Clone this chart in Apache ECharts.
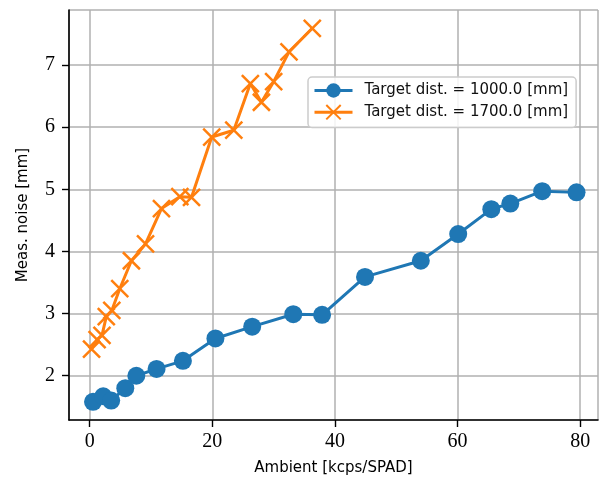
<!DOCTYPE html>
<html><head><meta charset="utf-8">
<script src="https://cdn.jsdelivr.net/npm/echarts@6/dist/echarts.min.js"></script>
<style>html,body{margin:0;padding:0;background:#fff}#c{width:603px;height:481px}</style>
</head><body><div id="c"></div>
<script>
const ambient1000 = [0.54, 2.2, 3.5, 5.8, 7.6, 10.9, 15.2, 20.5, 26.5, 33.2, 37.9, 44.9, 54.0, 60.1, 65.5, 68.6, 73.8, 79.4];
const noise1000 = [1.58, 1.67, 1.60, 1.80, 2.00, 2.11, 2.24, 2.60, 2.79, 2.99, 2.98, 3.59, 3.85, 4.28, 4.68, 4.77, 4.97, 4.95];
const ambient1700 = [0.3, 1.2, 2.0, 2.7, 3.6, 4.9, 6.8, 9.1, 11.7, 14.7, 16.6, 19.9, 23.5, 26.2, 28.0, 30.0, 32.5, 36.3];
const noise1700 = [2.43, 2.58, 2.65, 2.95, 3.05, 3.40, 3.85, 4.12, 4.69, 4.88, 4.87, 5.84, 5.95, 6.70, 6.40, 6.73, 7.21, 7.59];
const seriesNames = ['Target dist. = 1000.0 [mm]', 'Target dist. = 1700.0 [mm]'];

const zip = (a, b) => a.map((v, i) => [v, b[i]]);
const serif = 'Liberation Serif';
const sans = 'DejaVu Sans';
const chart = echarts.init(document.getElementById('c'), null, {renderer: 'canvas'});
const crossPath = 'path://M0,0L10,10M10,0L0,10';
chart.setOption({
  animation: false,
  backgroundColor: '#fff',
  grid: {left: 69, right: 5, top: 10, bottom: 61, containLabel: false},
  xAxis: {
    type: 'value', min: -3.38, max: 82.9, minInterval: 20, maxInterval: 20,
    axisLine: {show: true, onZero: false, lineStyle: {color: '#000', width: 1.6}},
    axisTick: {show: true, length: 7, lineStyle: {color: '#000', width: 1.4}},
    splitLine: {show: true, lineStyle: {color: '#b0b0b0', width: 1.5}},
    axisLabel: {fontFamily: serif, fontSize: 20, color: '#000', margin: 12,
      showMinLabel: false, showMaxLabel: false,
      formatter: v => (Math.abs(v % 20) < 1e-6 ? String(v) : '')},
    name: 'Ambient [kcps/SPAD]', nameLocation: 'middle', nameGap: 41,
    nameTextStyle: {fontFamily: sans, fontSize: 15, color: '#000'}
  },
  yAxis: {
    type: 'value', min: 1.288, max: 7.884, minInterval: 1, maxInterval: 1,
    axisLine: {show: true, onZero: false, lineStyle: {color: '#000', width: 1.6}},
    axisTick: {show: true, length: 7, lineStyle: {color: '#000', width: 1.4}},
    splitLine: {show: true, lineStyle: {color: '#b0b0b0', width: 1.5}},
    axisLabel: {fontFamily: serif, fontSize: 20, color: '#000', margin: 14,
      showMinLabel: false, showMaxLabel: false,
      formatter: v => (Math.abs(v - Math.round(v)) < 1e-6 ? String(Math.round(v)) : '')},
    name: 'Meas. noise [mm]', nameLocation: 'middle', nameGap: 38, nameRotate: 90,
    nameTextStyle: {fontFamily: sans, fontSize: 15, color: '#000'}
  },
  legend: {
    left: 308, top: 77, orient: 'vertical', itemWidth: 38, itemHeight: 18, itemGap: 6,
    padding: [6, 8, 7, 5],
    backgroundColor: 'rgba(255,255,255,0.85)', borderColor: '#cccccc', borderWidth: 1.5, borderRadius: 4,
    textStyle: {fontFamily: sans, fontSize: 15, color: '#111', padding: [0, 0, 0, 7]},
    lineStyle: {width: 3},
    data: seriesNames
  },
  series: [
    {name: seriesNames[0], type: 'line', data: zip(ambient1000, noise1000),
     symbol: 'circle', symbolSize: 18, color: '#1f77b4',
     lineStyle: {color: '#1f77b4', width: 3},
     itemStyle: {color: '#1f77b4'}, z: 2},
    {name: seriesNames[1], type: 'line', data: zip(ambient1700, noise1700),
     symbol: crossPath, symbolSize: 17, color: '#ff7f0e',
     lineStyle: {color: '#ff7f0e', width: 3},
     itemStyle: {color: 'rgba(0,0,0,0)', borderColor: '#ff7f0e', borderWidth: 2.5}, z: 3}
  ]
});
</script></body></html>
